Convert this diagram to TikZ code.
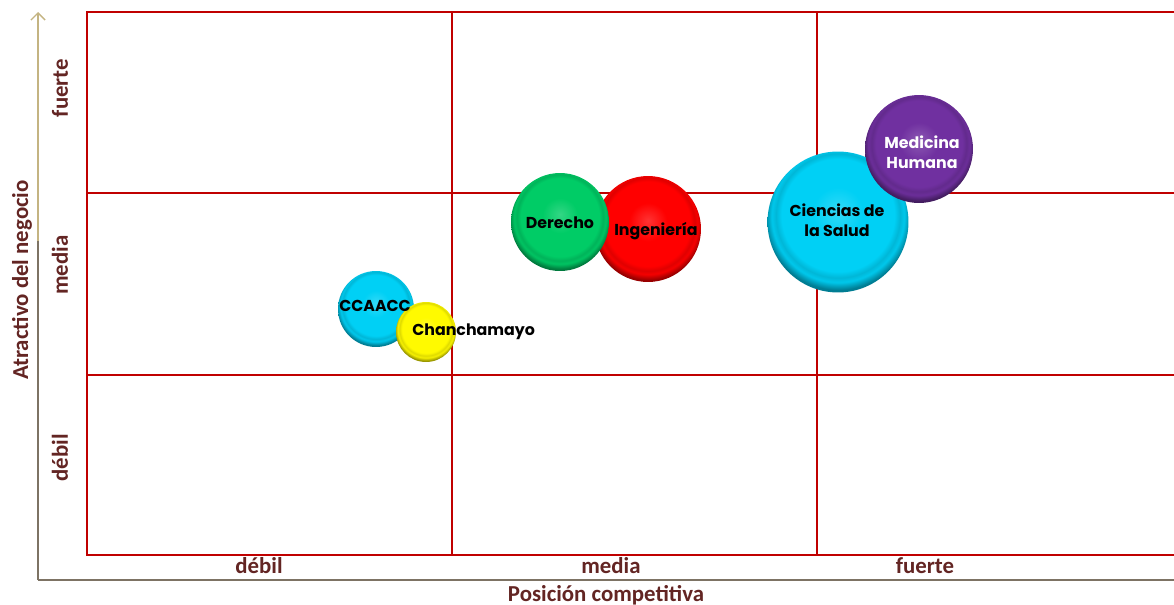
\documentclass[tikz,border=0pt]{standalone}
\usepackage{fontspec}
\setmainfont{Carlito}
\newfontfamily\bubfont{Poppins}
\usetikzlibrary{arrows.meta}
\definecolor{grid_red}{RGB}{192, 0, 0}
\definecolor{axis_text}{RGB}{99, 37, 35}
\definecolor{axis_line}{RGB}{125, 115, 100}
\definecolor{axis_tip}{RGB}{196, 180, 130}
\definecolor{cyan_b}{RGB}{0, 208, 245}
\definecolor{yellow_b}{RGB}{255, 250, 0}
\definecolor{green_b}{RGB}{0, 204, 102}
\definecolor{red_b}{RGB}{255, 0, 0}
\definecolor{purple_b}{RGB}{112, 48, 160}
\colorlet{bubc}{cyan_b}
\pgfdeclareradialshading[bubc]{bubshade}{\pgfpoint{0bp}{4bp}}{color(0bp)=(bubc!80!white); color(9bp)=(bubc); color(20bp)=(bubc); color(22bp)=(bubc!88!black); color(23.5bp)=(bubc!96!black); color(26bp)=(bubc!60!black); color(50bp)=(bubc!60!black)}

\tikzset{
    bubble/.style={shape=circle, inner sep=0pt, minimum size=#1, shade, shading=bubshade},
    bc/.code={\colorlet{bubc}{#1}},
    lbl/.style={font=\bubfont\bfseries\fontsize{9}{11.5}\selectfont, align=center, inner sep=0pt},
    axlbl/.style={font=\bfseries\fontsize{13}{15}\selectfont, text=axis_text, inner sep=0pt}
}

\begin{document}
\begin{tikzpicture}[x=0.02cm, y=-0.02cm]
    \useasboundingbox (0,0) rectangle (1174,605);

    % grid
    \draw[grid_red, line width=0.8pt] (87,12) rectangle (1180,555);
    \draw[grid_red, line width=0.8pt] (452,12) -- (452,555);
    \draw[grid_red, line width=0.8pt] (817,12) -- (817,555);
    \draw[grid_red, line width=0.8pt] (87,193) -- (1180,193);
    \draw[grid_red, line width=0.8pt] (87,375) -- (1180,375);

    % axes
    \coordinate (O) at (38,580);
    \coordinate (Ytop) at (38,12);
    \coordinate (Xend) at (1180,580);
    \draw[axis_line, line width=0.8pt] (O) -- (Xend);
    \draw[axis_line, line width=0.8pt] (O) -- (38,240);
    \draw[axis_tip, line width=0.8pt, -{Straight Barb[length=4pt, width=8pt]}] (38,241) -- (Ytop);

    \node[axlbl, rotate=90] (ytitle) at (22,280) {Atractivo del negocio};
    \node[axlbl, rotate=90] (yfuerte) at (60,88) {fuerte};
    \node[axlbl, rotate=90] (ymedia) at (60,265) {media};
    \node[axlbl, rotate=90] (ydebil) at (60,458) {débil};
    \node[axlbl] (xdebil) at (259,566) {débil};
    \node[axlbl] (xmedia) at (611,566) {media};
    \node[axlbl] (xfuerte) at (925,566) {fuerte};
    \node[axlbl] (xtitle) at (606,595) {Posición competitiva};

    % bubbles
    \node[bubble=2.82cm, bc=cyan_b] (salud) at (838,222) {};
    \node[bubble=2.16cm, bc=purple_b] (medicina) at (919,149) {};
    \node[bubble=2.12cm, bc=red_b] (ingenieria) at (648,229) {};
    \node[bubble=1.96cm, bc=green_b] (derecho) at (560,222) {};
    \node[bubble=1.52cm, bc=cyan_b] (ccaacc) at (376,309) {};
    \node[bubble=1.20cm, bc=yellow_b] (chanchamayo) at (426,332) {};

    \node[lbl] at (837,220) {Ciencias de\\la Salud};
    \node[lbl, text=white] at (922,152) {Medicina\\Humana};
    \node[lbl] at (656,231) {Ingeniería};
    \node[lbl] at (560,223) {Derecho};
    \node[lbl] at (375,306) {CCAACC};
    \node[lbl, anchor=west] at (412,332) {Chanchamayo};
\end{tikzpicture}
\end{document}
